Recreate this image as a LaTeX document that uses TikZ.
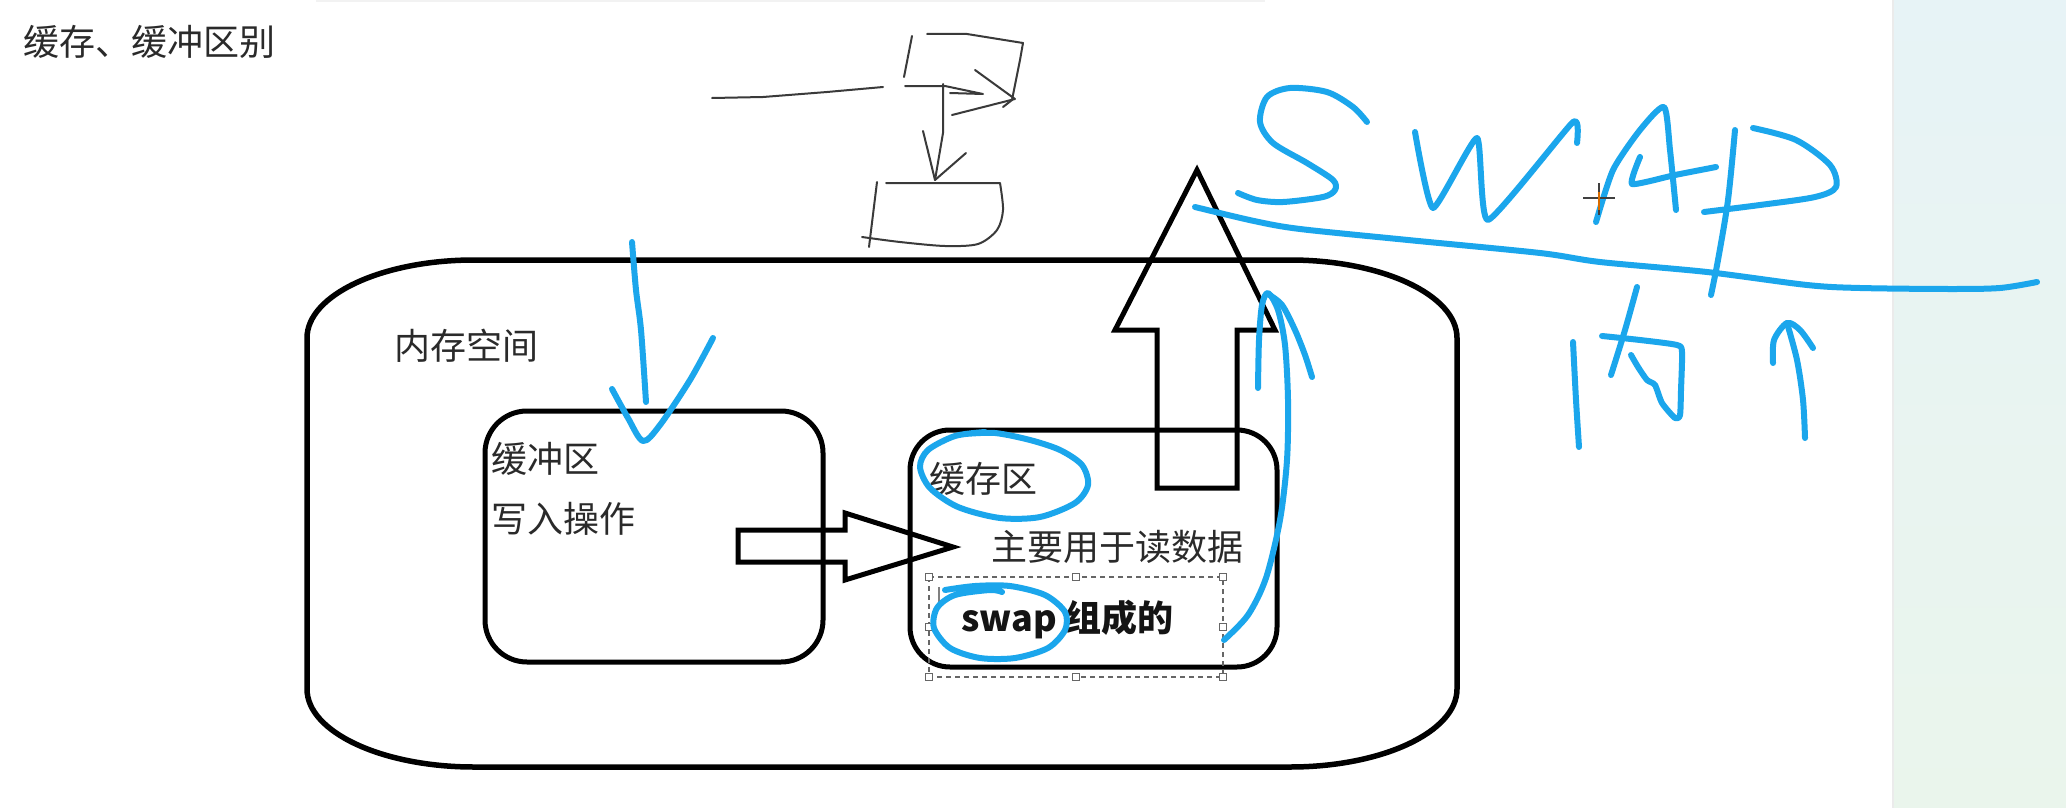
\documentclass[tikz,border=0pt]{standalone}
\usepackage{fontspec}
\newfontfamily\cjk{Noto Sans CJK SC}
\usetikzlibrary{positioning}
\definecolor{PenBlue}{HTML}{1BA6EC}
\definecolor{SketchGray}{HTML}{3A3A3A}
\definecolor{TextGray}{HTML}{2A2A2A}
\definecolor{PanelTop}{HTML}{E7F3F6}
\definecolor{PanelBottom}{HTML}{EAF5EC}

\begin{document}
\begin{tikzpicture}[
    x=1pt,y=-1pt,
    font=\cjk\fontsize{36}{40}\selectfont,
    txt/.style={anchor=west,inner sep=0pt,text=TextGray},
    frame/.style={draw=black,line width=5.5pt},
    zone/.style={draw=black,line width=5pt,rounded corners=42pt,inner sep=0pt},
    hollow/.style={draw=black,line width=5pt,line join=miter},
    pen/.style={draw=PenBlue,line width=6pt,line cap=round,line join=round},
    sketch/.style={draw=SketchGray,line width=2pt,line cap=round,line join=round},
    grip/.style={draw=black!60,fill=white,line width=1.2pt,minimum size=7pt,inner sep=0pt}
  ]
    \useasboundingbox (0,0) rectangle (2066,808);
    \fill[white] (0,0) rectangle (2066,808);
    \shade[top color=PanelTop,bottom color=PanelBottom] (1893,0) rectangle (2066,808);
    \draw[black!8,line width=1.5pt] (1893,0) -- (1893,808);
    \draw[black!5,line width=3pt] (316,1) -- (1265,1);

    \node[txt] (title) at (23,42) {缓存、缓冲区别};

    \draw[sketch] (712,98) -- (763,97) -- (827,92) -- (883,87);
    \draw[sketch] (905,86) -- (945,86) -- (983,94) (950,93) -- (983,94);
    \draw[sketch] (912,36) -- (904,77);
    \draw[sketch] (927,34) -- (967,34) -- (1023,43) -- (1020,60) -- (1012,100) -- (1003,107);
    \draw[sketch] (975,70) -- (1015,99) -- (952,115);
    \draw[sketch] (943,84) -- (943,133) -- (935,180);
    \draw[sketch] (923,131) -- (935,180) (927,147) -- (935,180) (966,153) -- (935,180);
    \draw[sketch] (886,183) -- (1000,183) plot[smooth] coordinates {(1000,183) (1003,210) (997,230) (978,244) (945,246) (900,242) (862,237)};
    \draw[sketch] (877,182) -- (869,247);

    \draw[frame] (474,260) -- (1290,260) .. controls (1382,260) and (1457,295) .. (1457,338)
      -- (1457,689) .. controls (1457,732) and (1382,767) .. (1290,767)
      -- (474,767) .. controls (382,767) and (307,732) .. (307,689)
      -- (307,338) .. controls (307,295) and (382,260) .. (474,260) -- cycle;
    \node[txt] (memlabel) at (394,346) {内存空间};

    \node[zone,minimum width=338pt,minimum height=251pt] (buffer) at (654,536.5) {};
    \node[zone,rounded corners=40pt,minimum width=367pt,minimum height=237pt] (cache) at (1093.5,548.5) {};

    \node[txt] (buflabel) at (491,459) {缓冲区};
    \node[txt] (bufop) at (491,519) {写入操作};
    \node[txt] (cachelabel) at (929,479) {缓存区};
    \node[txt] (cacheuse) at (991,547) {主要用于读数据};
    \node[txt,font=\cjk\bfseries\fontsize{36}{40}\selectfont,text=black!92] (swaplabel) at (961,620) {swap 组成的};

    \draw[hollow] (738,530) -- (845,530) -- (845,513) -- (953,547) -- (845,580) -- (845,562) -- (738,562) -- cycle;
    \draw[hollow] (1157,488) -- (1157,330) -- (1115,330) -- (1197,170) -- (1275,330) -- (1237,330) -- (1237,488) -- cycle;

    \draw[black!60,line width=1.3pt,dash pattern=on 5pt off 4pt] (929,577) rectangle (1223,677);
    \node[grip] (g1) at (929,577) {};
    \node[grip] (g2) at (1076,577) {};
    \node[grip] (g3) at (1223,577) {};
    \node[grip] (g4) at (929,627) {};
    \node[grip] (g5) at (1223,627) {};
    \node[grip] (g6) at (929,677) {};
    \node[grip] (g7) at (1076,677) {};
    \node[grip] (g8) at (1223,677) {};
    \draw[black!50,line width=1.2pt] (939,587) -- (939,602);

    \draw[pen] plot[smooth] coordinates {(632,242) (636,290) (641,330) (646,402)};
    \draw[pen] plot[smooth,tension=0.5] coordinates {(612,389) (628,418) (643,441) (660,425) (690,380) (713,338)};
    \draw[pen] plot[smooth] coordinates {(985,432) (955,436) (928,450) (920,467) (930,488) (958,507) (1000,518) (1040,517) (1075,503) (1088,485) (1082,465) (1060,450) (1030,440) (995,433) (965,434)};
    \draw[pen] plot[smooth] coordinates {(945,590) (975,586) (1010,586) (1045,595) (1065,612) (1065,630) (1048,648) (1015,658) (980,658) (950,648) (934,628) (937,608) (955,595) (990,590) (1002,592)};
    \draw[pen] plot[smooth] coordinates {(1258,388) (1259,340) (1262,305) (1268,293) (1278,310) (1285,345) (1288,400) (1287,460) (1280,520) (1266,578) (1248,615) (1224,640)};
    \draw[pen] plot[smooth] coordinates {(1268,294) (1282,305) (1295,330) (1305,355) (1312,377)};

    \draw[pen] plot[smooth] coordinates {(1367,122) (1353,107) (1327,92) (1290,88) (1267,97) (1260,122) (1273,143) (1307,163) (1333,180) (1335,190) (1323,197) (1283,202) (1257,200) (1238,193)};
    \draw[pen] plot[smooth,tension=0.3] coordinates {(1415,132) (1433,208) (1477,138) (1488,220) (1573,122) (1577,143)};
    \draw[pen] plot[smooth,tension=0.4] coordinates {(1596,222) (1613,170) (1640,130) (1664,107) (1670,150) (1676,210)};
    \draw[pen] plot[smooth,tension=0.3] coordinates {(1640,157) (1632,184) (1675,175) (1716,167)};
    \draw[pen] plot[smooth] coordinates {(1735,130) (1728,200) (1718,260) (1711,295)};
    \draw[pen] plot[smooth] coordinates {(1753,128) (1796,140) (1830,165) (1836,187) (1815,197) (1760,205) (1704,212)};
    \draw[pen] plot[smooth] coordinates {(1195,207) (1254,221) (1300,229) (1408,240) (1540,253) (1600,262) (1707,272) (1807,285) (1860,288) (1950,289) (2000,288) (2037,282)};

    \draw[pen] plot[smooth] coordinates {(1573,342) (1576,400) (1579,447)};
    \draw[pen] plot[smooth] coordinates {(1637,287) (1625,330) (1611,375)};
    \draw[pen] plot[smooth,tension=0.4] coordinates {(1602,336) (1640,340) (1677,345) (1682,352) (1681,390) (1680,415) (1675,418) (1662,403) (1655,385) (1647,380) (1638,367) (1631,355)};
    \draw[pen] plot[smooth] coordinates {(1805,438) (1803,400) (1797,360) (1787,323)};
    \draw[pen] plot[smooth] coordinates {(1773,363) (1774,340) (1787,323) (1800,330) (1813,348)};

    \draw[black!75,line width=2pt] (1583,198) -- (1615,198) (1599,183) -- (1599,215);
    \draw[orange!85!black,line width=2pt] (1599,192) -- (1599,210);
  \end{tikzpicture}
\end{document}
